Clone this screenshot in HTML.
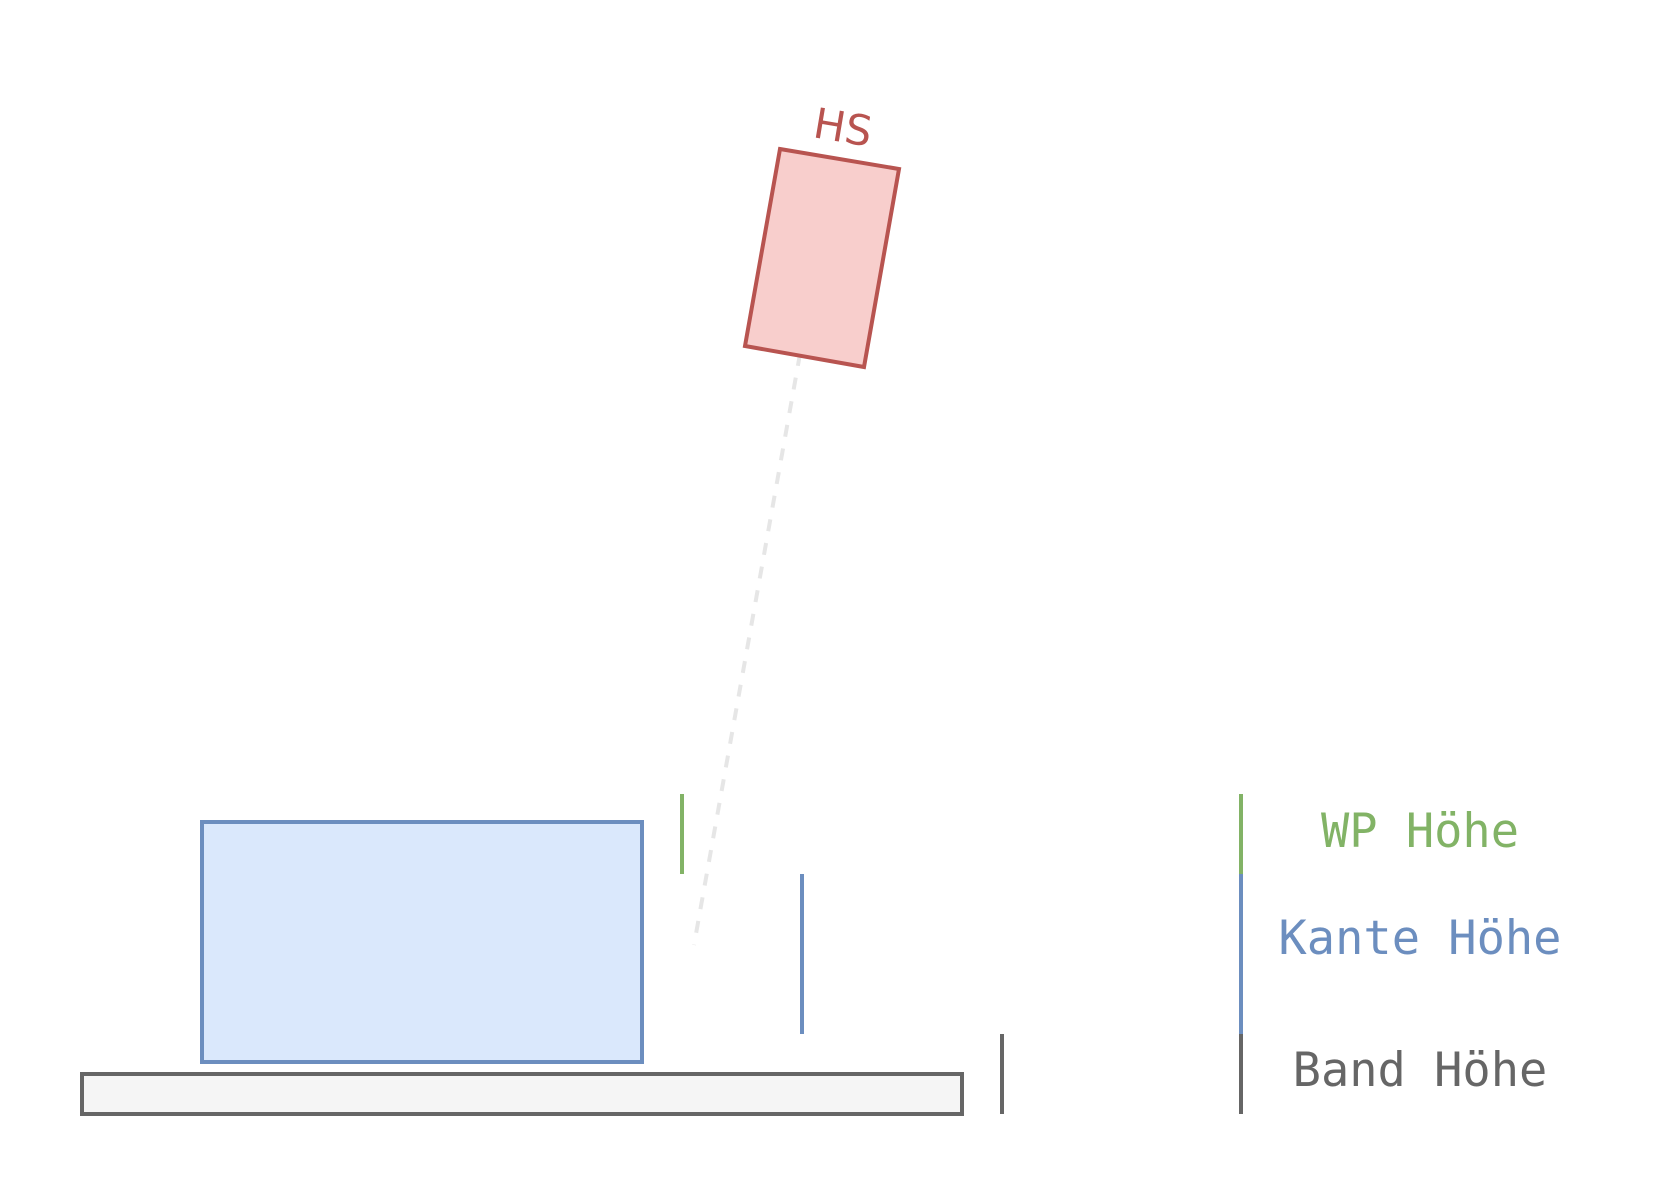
<!DOCTYPE html>
<html><head><meta charset="utf-8"><style>
html,body{margin:0;padding:0;background:#fff}
svg{display:block}
</style></head><body>
<svg width="1664" height="1200" viewBox="0 0 1664 1200">
<line x1="800" y1="354" x2="694" y2="945" stroke="#e6e6e6" stroke-width="4" stroke-dasharray="12 12"/>
<polygon points="780,149 899,169 864,367 745,346" fill="#f8cecc" stroke="#b85450" stroke-width="4"/>
<text x="843" y="142" text-anchor="middle" transform="rotate(9.5 843 127)" font-family="'DejaVu Sans','Liberation Sans',sans-serif" font-size="42" fill="#b85450">HS</text>
<rect x="202" y="822" width="440" height="240" fill="#dae8fc" stroke="#6c8ebf" stroke-width="4"/>
<rect x="82" y="1074" width="880" height="40" fill="#f5f5f5" stroke="#666666" stroke-width="4"/>
<line x1="682" y1="794" x2="682" y2="874" stroke="#82b366" stroke-width="4"/>
<line x1="802" y1="874" x2="802" y2="1034" stroke="#6c8ebf" stroke-width="4"/>
<line x1="1002" y1="1034" x2="1002" y2="1114" stroke="#666666" stroke-width="4"/>
<line x1="1241" y1="794" x2="1241" y2="874" stroke="#82b366" stroke-width="4"/>
<line x1="1241" y1="874" x2="1241" y2="1034" stroke="#6c8ebf" stroke-width="4"/>
<line x1="1241" y1="1034" x2="1241" y2="1114" stroke="#666666" stroke-width="4"/>
<g font-family="'DejaVu Sans Mono','Liberation Mono',monospace" font-size="47" text-anchor="middle">
<text x="1420" y="847" fill="#82b366">WP Höhe</text>
<text x="1420" y="954" fill="#6c8ebf">Kante Höhe</text>
<text x="1420" y="1086" fill="#666666">Band Höhe</text>
</g>
</svg>
</body></html>
